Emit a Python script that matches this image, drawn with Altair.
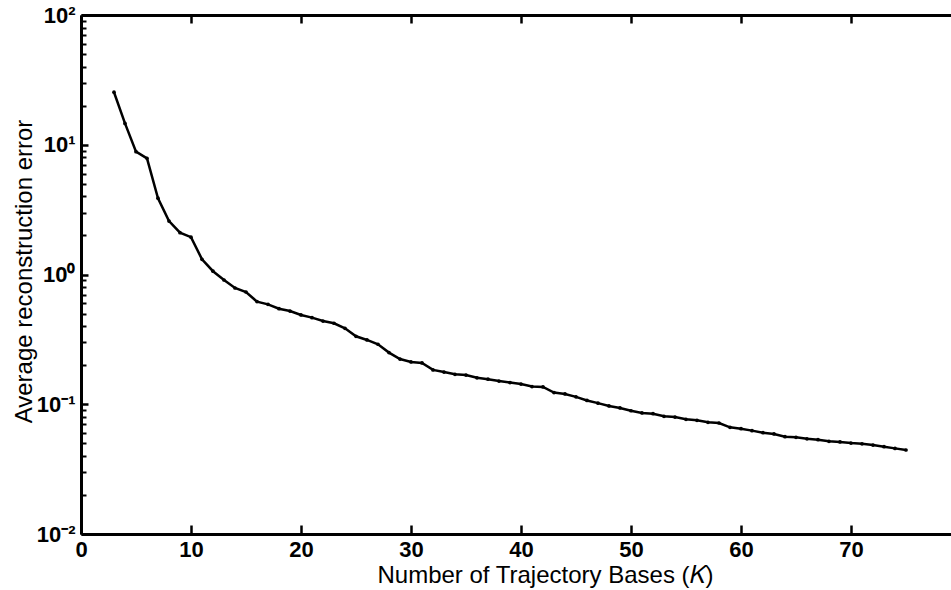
import altair as alt
import pandas as pd

k_values = list(range(3, 76))
avg_error = [
    25.4, 14.6, 8.85, 7.86, 3.87, 2.58, 2.10, 1.94, 1.31, 1.06,
    0.907, 0.787, 0.733, 0.618, 0.589, 0.545, 0.523, 0.488, 0.465, 0.438,
    0.421, 0.385, 0.334, 0.313, 0.290, 0.250, 0.223, 0.212, 0.208, 0.184,
    0.177, 0.170, 0.168, 0.160, 0.156, 0.151, 0.147, 0.143, 0.137, 0.136,
    0.123, 0.120, 0.114, 0.107, 0.102, 0.097, 0.0936, 0.0891, 0.0857, 0.0846,
    0.0807, 0.0797, 0.0766, 0.0752, 0.0726, 0.0717, 0.0664, 0.0648, 0.0626, 0.0604,
    0.0590, 0.0562, 0.0556, 0.0542, 0.0533, 0.0518, 0.0512, 0.0502, 0.0496, 0.0485,
    0.0471, 0.0457, 0.0444,
]
x_ticks = [0, 10, 20, 30, 40, 50, 60, 70]
y_decades = [0.01, 0.1, 1, 10, 100]
y_labels = ["10⁻²", "10⁻¹", "10⁰", "10¹", "10²"]
y_minor = [m * d for d in [0.01, 0.1, 1, 10] for m in range(2, 10)]

df = pd.DataFrame({"K": k_values, "err": avg_error})

FONT = "Liberation Sans"
W, H = 870, 519

x_scale = alt.Scale(domain=[0, W / 11.0], nice=False, zero=False)
y_scale = alt.Scale(type="log", domain=[0.01, 100], nice=False)

expr = "'" + y_labels[-1] + "'"
for v, lab in reversed(list(zip(y_decades[:-1], y_labels[:-1]))):
    expr = f"datum.value < {v * 1.5} ? '{lab}' : " + expr


def tick_axis(orient, offset, values, size, width):
    # axis showing only its ticks, shifted inside the plot so ticks point inward
    return alt.Axis(
        orient=orient, offset=offset, values=values,
        domain=False, labels=False,
        ticks=True, tickSize=size, tickWidth=width, tickColor="black",
        grid=False, title=None,
    )


line = alt.Chart(df).mark_line(color="black", strokeWidth=2.5).encode(
    x=alt.X("K:Q", scale=x_scale, axis=alt.Axis(
        orient="bottom", values=x_ticks, ticks=False, grid=False,
        domain=True, domainColor="black", domainWidth=3,
        labelFont=FONT, labelFontWeight="bold", labelFontSize=22, labelColor="black",
        labelPadding=5, labelFlush=False,
        title="Number of Trajectory Bases (𝐾)", titleFont=FONT, titleFontSize=24,
        titleFontWeight="normal", titleColor="black",
        titleX=464, titleY=48, titleBaseline="alphabetic", titleAnchor="middle", titleAlign="center",
    )),
    y=alt.Y("err:Q", scale=y_scale, axis=alt.Axis(
        orient="left", values=y_decades, labelExpr=expr, ticks=False, grid=False,
        domain=True, domainColor="black", domainWidth=3,
        labelFont=FONT, labelFontWeight="bold", labelFontSize=22, labelColor="black",
        labelPadding=6, labelFlush=False,
        title="Average reconstruction error", titleFont=FONT, titleFontSize=24,
        titleFontWeight="normal", titleColor="black",
        titleX=-57, titleY=256, titleBaseline="middle", titleAlign="center",
    )),
)

major_ticks = alt.Chart(df).mark_line(opacity=0).encode(
    x=alt.X("K:Q", scale=x_scale, axis=tick_axis("bottom", -9, x_ticks, 9, 2.5)),
    y=alt.Y("err:Q", scale=y_scale, axis=tick_axis("left", -7, y_decades, 7, 2.5)),
)

minor_ticks = alt.Chart(df).mark_line(opacity=0).encode(
    x=alt.X("K:Q", scale=x_scale, axis=tick_axis("top", -8, x_ticks, 8, 2.5)),
    y=alt.Y("err:Q", scale=y_scale, axis=tick_axis("left", -5, y_minor, 5, 2)),
)

top_border = alt.Chart(df).mark_line(opacity=0).encode(
    x=alt.X("K:Q", scale=x_scale, axis=alt.Axis(
        orient="top", domain=True, domainColor="black", domainWidth=3,
        labels=False, ticks=False, grid=False, title=None)),
    y=alt.Y("err:Q", scale=y_scale, axis=None),
)

points = alt.Chart(df).mark_circle(color="black", size=14, opacity=1).encode(
    x=alt.X("K:Q", scale=x_scale, axis=None),
    y=alt.Y("err:Q", scale=y_scale, axis=None),
)

chart = alt.layer(line, major_ticks, minor_ticks, top_border, points).resolve_axis(
    x="independent", y="independent"
).properties(
    width=W, height=H,
    autosize=alt.AutoSizeParams(type="none"),
    padding={"left": 81, "top": 15, "right": 0, "bottom": 56},
    background="white",
).configure_view(stroke=None)

chart.save("out.html", embed_options={"renderer": "svg", "actions": False})
